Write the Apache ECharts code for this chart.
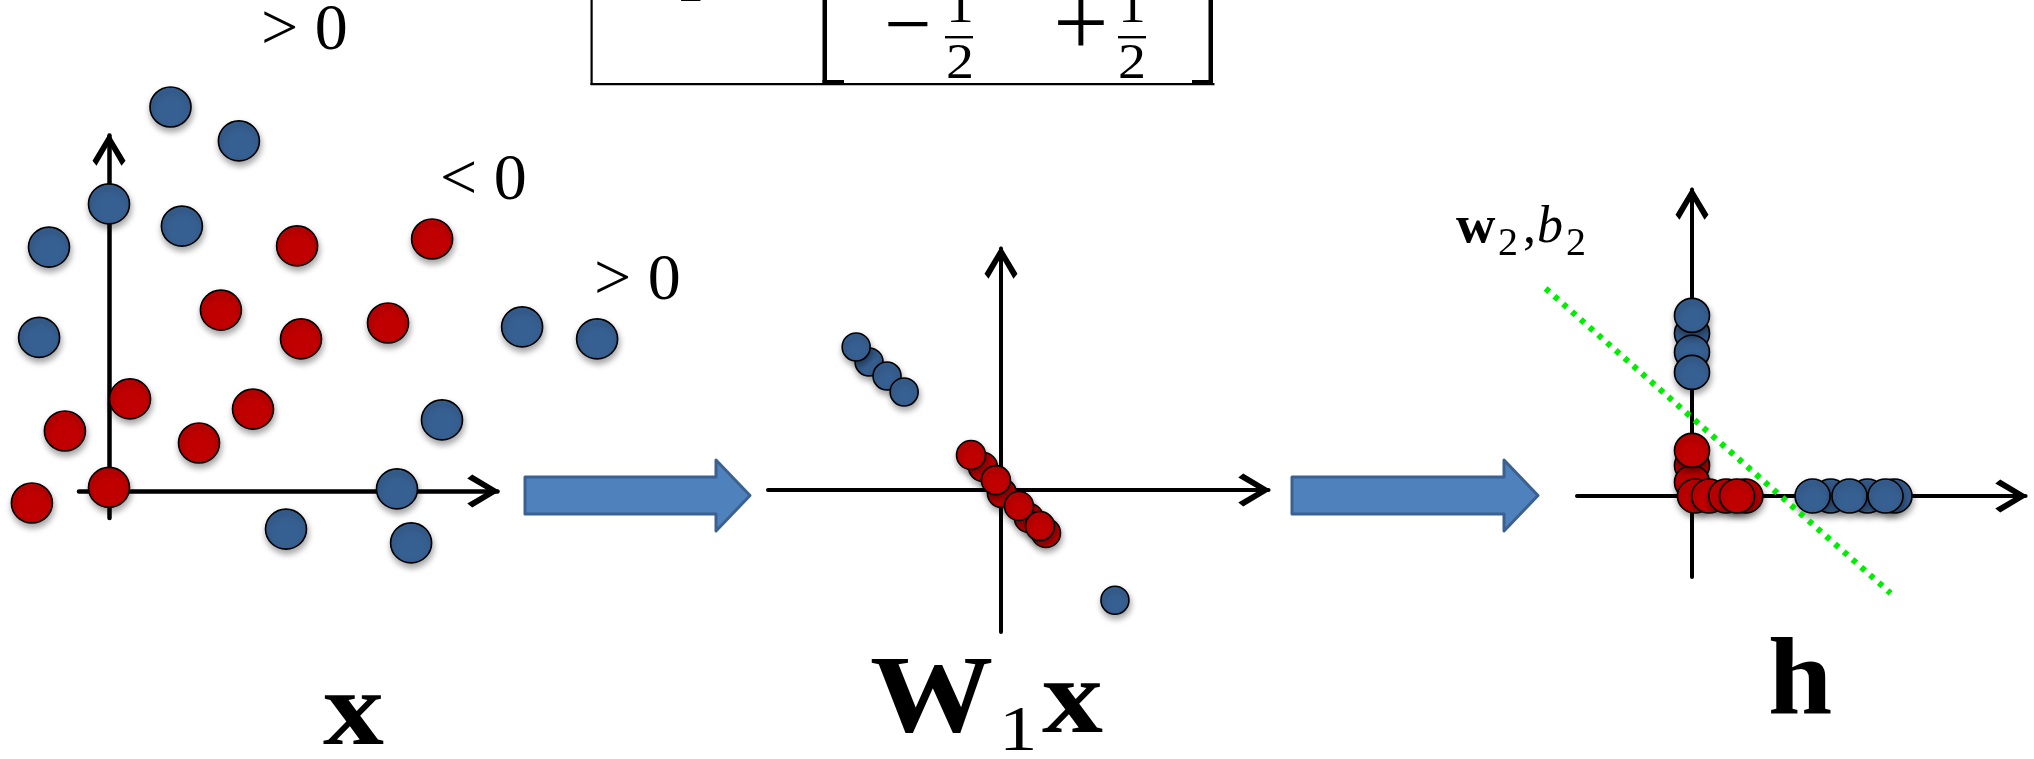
<!DOCTYPE html>
<html><head><meta charset="utf-8">
<script src="https://cdn.jsdelivr.net/npm/echarts@6/dist/echarts.min.js"></script>
<style>html,body{margin:0;padding:0;background:#fff;}#c{width:2034px;height:759px;}</style>
</head><body><div id="c"></div>
<script>
// ---- Data (arbitrary units, origin = axis crossing) ----
// Panel 1: input space x
const p1Blue = [[2.05,12.8],[4.33,11.67],[0,9.57],[-2.0,8.13],[2.43,8.83],[-2.33,5.12],[13.77,5.47],[16.27,5.07],[11.1,2.37],[9.6,0.07],[5.9,-1.27],[10.07,-1.73]];
const p1Red  = [[0,0.12],[-2.57,-0.4],[-1.47,2.0],[0.7,3.07],[3.0,1.6],[4.8,2.73],[3.73,6.03],[6.4,5.07],[9.3,5.6],[6.27,8.17],[10.77,8.4]];
// Panel 2: W1 x
const p2Blue = [[-4.4,4.27],[-3.8,3.8],[-4.83,4.77],[-3.23,3.27],[3.8,-3.67]];
const p2Red  = [[-0.6,0.77],[-1.0,1.17],[0.03,-0.1],[-0.17,0.33],[0.93,-0.93],[0.6,-0.53],[1.5,-1.43],[1.3,-1.2]];
// Panel 3: h
const p3Blue = [[0,5.42],[0,4.79],[0,6.02],[0,4.12],[4.62,0],[5.85,0],[6.75,0],[4.02,0],[5.25,0],[6.45,0]];
const p3Red  = [[0,1.02],[0,0.46],[0.1,0],[0.57,0],[1.14,0],[1.78,0],[1.5,0],[0,1.52]];
const boundary = [[-4.88,6.92],[6.62,-3.24]];
// axis extents
const p1XRange = [-1, 12.95],  p1YRange = [-0.9, 11.85];
const p2XRange = [-7.77, 8.92], p2YRange = [-4.73, 8.05];
const p3XRange = [-3.833, 11.117], p3YRange = [-2.7, 10.217];
const p3wXRange = [-6.4, 11.117], p3wYRange = [-4.133, 11.533]; // wider frame, same scale, for the boundary
// labels
const signLabels = ['> 0', '< 0', '> 0'];
const panelLabels = ['x', 'W', '1', 'h'];

const BLUE = '#376092', RED = '#C00000';
const CHEV = 'path://M16.5,0 L33,27.5 L29,32.5 L16.5,11 L4,32.5 L0,27.5 Z';
const SERIF = 'Liberation Serif';

function axis(gi, range, w, hidden) {
  return { type: 'value', gridIndex: gi, min: range[0], max: range[1], show: !hidden,
    axisLine: { show: !hidden, onZero: true, lineStyle: { color: '#000', width: w },
      symbol: ['none', CHEV], symbolSize: [33, 33], symbolOffset: [0, -14] },
    axisTick: { show: false }, axisLabel: { show: false }, splitLine: { show: false } };
}
function pts(name, gi, data, color, size) {
  return { name, type: 'scatter', xAxisIndex: gi, yAxisIndex: gi, data, clip: false,
    symbol: 'circle', symbolSize: size, z: 3,
    itemStyle: { color, borderColor: '#000', borderWidth: 1.6, opacity: 1,
      shadowBlur: 6, shadowColor: 'rgba(0,0,0,0.35)', shadowOffsetX: 1, shadowOffsetY: 4 },
    emphasis: { disabled: true } };
}
// text placed by its alphabetic baseline
function txt(text, x, baseline, size, opt) {
  opt = opt || {};
  return { type: 'text', z: 10, x: x, y: baseline - 0.3375 * size * (opt.scaleY || 1),
    scaleX: opt.scaleX || 1, scaleY: opt.scaleY || 1,
    style: { text, x: 0, y: 0,
      font: (opt.style || 'normal') + ' ' + (opt.weight || 'normal') + ' ' + size + 'px "' + SERIF + '"',
      fill: '#000', align: opt.align || 'left', verticalAlign: 'middle' } };
}
function rect(x, y, w, h) { return { type: 'rect', z: 10, shape: { x, y, width: w, height: h }, style: { fill: '#000' } }; }
function blockArrow(x0, xh, xt, cy) {
  return { type: 'polygon', z: 5, shape: { points: [[x0, cy - 18.5], [xh, cy - 18.5], [xh, cy - 35.5], [xt, cy], [xh, cy + 35.5], [xh, cy + 18.5], [x0, cy + 18.5]] },
    style: { fill: '#4F81BD', stroke: '#3B6191', lineWidth: 3, lineJoin: 'round' } };
}

const graphics = [
  blockArrow(525, 716, 750, 495.5),
  blockArrow(1292, 1504, 1538, 495.5),
  txt(signLabels[0], 261, 54, 66),
  txt(signLabels[1], 440, 204, 66),
  txt(signLabels[2], 594, 304, 66),
  // w2, b2
  txt('w', 1456, 246, 52, { weight: 'bold', scaleX: 1.05 }),
  txt('2', 1498, 258, 40),
  txt(',', 1523, 246, 52),
  txt('b', 1537, 246, 52, { style: 'italic' }),
  txt('2', 1566, 258, 40),
  // bottom labels
  txt(panelLabels[0], 323, 752, 106, { weight: 'bold', scaleX: 1.15 }),
  txt(panelLabels[1], 870, 740, 110, { weight: 'bold', scaleX: 1.12 }),
  txt(panelLabels[2], 999, 755, 64, { scaleX: 1.2 }),
  txt(panelLabels[0], 1042, 740, 106, { weight: 'bold', scaleX: 1.15 }),
  txt(panelLabels[3], 1768, 723, 110, { weight: 'bold', scaleX: 1.05 }),
  // matrix box at top
  rect(590.5, -2, 2.2, 87), rect(590.5, 83, 624, 2.2),
  rect(822.5, -2, 4.5, 87), rect(822.5, 80, 21.5, 5),
  rect(1208.5, -2, 4.5, 87), rect(1192, 80, 21, 5),
  txt('1', 690, 5, 50, { align: 'center', scaleX: 1.1 }),
  { type: 'text', z: 10, style: { text: '\u2212', x: 908, y: 30, font: 'normal 84px "' + SERIF + '"', fill: '#000', align: 'center', verticalAlign: 'middle' } },
  txt('1', 960, 26, 50, { align: 'center', scaleX: 1.1 }), rect(945, 36, 28, 2.4), txt('2', 960, 82, 50, { align: 'center', scaleX: 1.12 }),
  { type: 'text', z: 10, style: { text: '+', x: 1081, y: 29, font: 'normal 98px "' + SERIF + '"', fill: '#000', align: 'center', verticalAlign: 'middle' } },
  txt('1', 1132, 26, 50, { align: 'center', scaleX: 1.1 }), rect(1118, 36, 28, 2.4), txt('2', 1132, 82, 50, { align: 'center', scaleX: 1.12 })
];

const chart = echarts.init(document.getElementById('c'), null, { renderer: 'canvas' });
chart.setOption({
  backgroundColor: '#fff',
  animation: false,
  grid: [
    { left: 79, top: 135.5, width: 418.5, height: 382.5, containLabel: false, outerBoundsMode: 'none' },
    { left: 768, top: 248.5, width: 500.5, height: 383.5, containLabel: false, outerBoundsMode: 'none' },
    { left: 1577, top: 189.5, width: 448.5, height: 387.5, containLabel: false, outerBoundsMode: 'none' },
    { left: 1500, top: 150, width: 525.5, height: 470, containLabel: false, outerBoundsMode: 'none' }
  ],
  xAxis: [axis(0, p1XRange, 4.5), axis(1, p2XRange, 4), axis(2, p3XRange, 4), axis(3, p3wXRange, 1, true)],
  yAxis: [axis(0, p1YRange, 4.5), axis(1, p2YRange, 4), axis(2, p3YRange, 4), axis(3, p3wYRange, 1, true)],
  series: [
    pts('blue1', 0, p1Blue, BLUE, [41, 40]),
    pts('red1', 0, p1Red, RED, [41, 40]),
    pts('blue2', 1, p2Blue, BLUE, 28),
    pts('red2', 1, p2Red, RED, 29),
    pts('blue3', 2, p3Blue, BLUE, [35, 34]),
    pts('red3', 2, p3Red, RED, [35, 34]),
    { name: 'boundary', type: 'line', xAxisIndex: 3, yAxisIndex: 3, data: boundary, symbol: 'none', z: 6,
      clip: false, lineStyle: { color: '#00EE00', width: 6, type: [5, 6.7], cap: 'butt' } }
  ],
  graphic: { elements: graphics }
});
</script></body></html>
